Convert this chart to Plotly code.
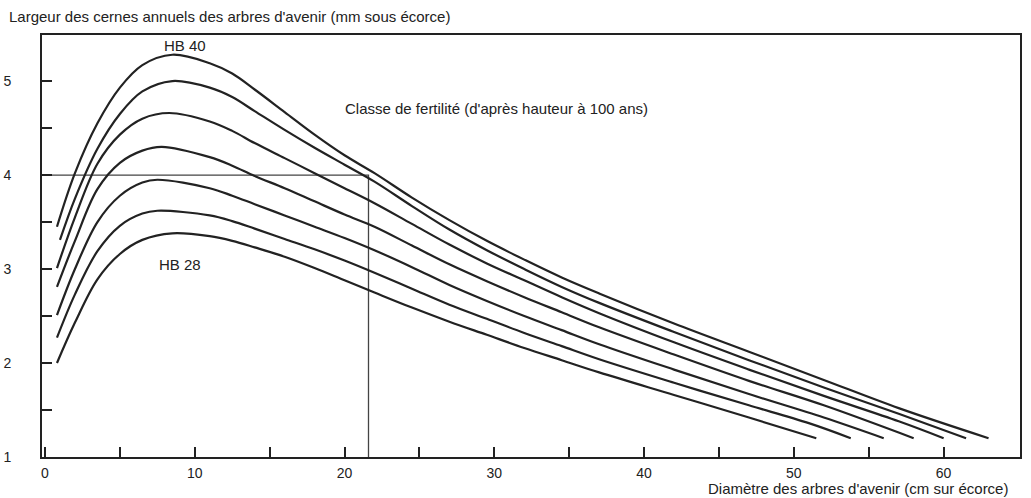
import plotly.graph_objects as go

# ---- data ----
hb40_x = [0.8, 2, 3.5, 5, 6.5, 8.5, 11, 12.5, 14, 16, 18, 20, 22, 24.5, 27, 29.5, 32, 34.5, 37, 42, 47, 52, 57, 63]
hb40_y = [3.45, 4.02, 4.55, 4.93, 5.17, 5.28, 5.19, 5.08, 4.91, 4.67, 4.43, 4.21, 4.02, 3.76, 3.52, 3.30, 3.10, 2.91, 2.74, 2.42, 2.12, 1.82, 1.52, 1.20]

hb38_x = [1.0, 2, 3.5, 5, 6.5, 8.5, 11, 12.5, 14, 16, 18, 20, 22, 24.5, 27, 29.5, 32, 34.5, 37, 42, 47, 52, 57, 61.5]
hb38_y = [3.31, 3.75, 4.28, 4.65, 4.89, 5.00, 4.93, 4.83, 4.68, 4.48, 4.29, 4.11, 3.93, 3.67, 3.42, 3.20, 3.00, 2.81, 2.64, 2.33, 2.03, 1.74, 1.46, 1.20]

hb36_x = [0.8, 2, 3.5, 5, 6.5, 8.3, 11, 12.5, 14, 16, 18, 20, 22, 24.5, 27, 29.5, 32, 34.5, 37, 42, 47, 52, 57, 60]
hb36_y = [3.01, 3.55, 4.12, 4.43, 4.60, 4.66, 4.57, 4.47, 4.34, 4.18, 4.02, 3.86, 3.70, 3.48, 3.26, 3.06, 2.88, 2.70, 2.53, 2.22, 1.93, 1.65, 1.38, 1.20]

hb34_x = [0.8, 2, 3.5, 5, 6.5, 7.8, 11, 12.5, 14, 16, 18, 20, 22, 24.5, 27, 29.5, 32, 34.5, 37, 42, 47, 52, 58]
hb34_y = [2.81, 3.30, 3.85, 4.13, 4.26, 4.30, 4.19, 4.10, 3.99, 3.86, 3.72, 3.58, 3.45, 3.25, 3.05, 2.87, 2.70, 2.54, 2.38, 2.09, 1.81, 1.55, 1.20]

hb32_x = [0.8, 2, 3.5, 5, 6.5, 7.5, 11, 12.5, 14, 16, 18, 20, 22, 24.5, 27, 29.5, 32, 34.5, 37, 42, 47, 52, 56]
hb32_y = [2.51, 3.00, 3.50, 3.78, 3.92, 3.95, 3.86, 3.78, 3.69, 3.57, 3.45, 3.33, 3.20, 3.02, 2.83, 2.66, 2.50, 2.35, 2.20, 1.93, 1.67, 1.42, 1.20]

hb30_x = [0.8, 2, 3.5, 5, 6.5, 7.5, 11, 12.5, 14, 16, 18, 20, 22, 24.5, 27, 29.5, 32, 34.5, 37, 42, 47, 51, 53.8]
hb30_y = [2.27, 2.73, 3.19, 3.46, 3.59, 3.62, 3.57, 3.51, 3.43, 3.32, 3.21, 3.09, 2.96, 2.79, 2.62, 2.47, 2.32, 2.18, 2.04, 1.79, 1.55, 1.36, 1.20]

hb28_x = [0.8, 2, 3.5, 5, 6.5, 8.5, 11, 12.5, 14, 16, 18, 20, 22, 24.5, 27, 29.5, 32, 34.5, 37, 42, 47, 51.5]
hb28_y = [2.00, 2.43, 2.89, 3.16, 3.31, 3.38, 3.35, 3.30, 3.23, 3.13, 3.01, 2.88, 2.75, 2.59, 2.44, 2.30, 2.16, 2.03, 1.90, 1.66, 1.42, 1.20]

guide_x = [-0.2, 21.6, 21.6]
guide_y = [4.0, 4.0, 1.0]

x_tickvals = [0, 5, 10, 15, 20, 25, 30, 35, 40, 45, 50, 55, 60]
x_ticktext = ["0", "", "10", "", "20", "", "30", "", "40", "", "50", "", "60"]
y_tickvals = [1, 1.5, 2, 2.5, 3, 3.5, 4, 4.5, 5]
y_ticktext = ["1", "", "2", "", "3", "", "4", "", "5"]

curves = [(hb40_x, hb40_y), (hb38_x, hb38_y), (hb36_x, hb36_y), (hb34_x, hb34_y),
          (hb32_x, hb32_y), (hb30_x, hb30_y), (hb28_x, hb28_y)]

FONT = "Liberation Sans, Arial, sans-serif"
INK = "#222222"
TXT = 15

fig = go.Figure()
fig.add_trace(go.Scatter(x=guide_x, y=guide_y, mode="lines",
                         line=dict(color="#444444", width=1.3), hoverinfo="skip"))
for cx, cy in curves:
    fig.add_trace(go.Scatter(x=cx, y=cy, mode="lines",
                             line=dict(color=INK, width=2.2, shape="spline", smoothing=1.0)))

fig.add_annotation(x=9.35, y=5.38, text="HB 40", showarrow=False,
                   font=dict(size=TXT, color=INK, family=FONT))
fig.add_annotation(x=9.0, y=3.05, text="HB 28", showarrow=False,
                   font=dict(size=TXT, color=INK, family=FONT))
fig.add_annotation(x=19.9, y=4.71, text="Classe de fertilité (d'après hauteur à 100 ans)",
                   showarrow=False, xanchor="left",
                   font=dict(size=TXT, color=INK, family=FONT))
fig.add_annotation(xref="paper", yref="paper", x=-0.0358, y=1.0427,
                   xanchor="left", yanchor="middle", showarrow=False,
                   text="Largeur des cernes annuels des arbres d'avenir (mm sous écorce)",
                   font=dict(size=TXT, color=INK, family=FONT))
fig.add_annotation(xref="paper", yref="paper", x=0.9898, y=-0.0735,
                   xanchor="right", yanchor="middle", showarrow=False,
                   text="Diamètre des arbres d'avenir (cm sur écorce)",
                   font=dict(size=TXT, color=INK, family=FONT))

fig.update_layout(
    width=1031, height=498,
    margin=dict(l=42, r=11, t=35, b=41, autoexpand=False),
    paper_bgcolor="white", plot_bgcolor="white",
    showlegend=False,
    font=dict(family=FONT, size=14, color=INK),
)
fig.update_xaxes(range=[-0.2, 65.1], tickvals=x_tickvals, ticktext=x_ticktext,
                 ticks="inside", ticklen=10, tickwidth=1.5, tickcolor=INK,
                 showline=True, linecolor=INK, linewidth=2, mirror=True,
                 showgrid=False, zeroline=False, ticklabelstandoff=2, automargin=False)
fig.update_yaxes(range=[1, 5.49], tickvals=y_tickvals, ticktext=y_ticktext,
                 ticks="inside", ticklen=10, tickwidth=1.5, tickcolor=INK,
                 showline=True, linecolor=INK, linewidth=2, mirror=True,
                 showgrid=False, zeroline=False, ticklabelstandoff=26, automargin=False)

# remove the default 8px page margin so the 1031x498 figure fills the window exactly
fig.write_html("out.html", config={"displayModeBar": False},
               post_script="document.body.style.margin='0';")
